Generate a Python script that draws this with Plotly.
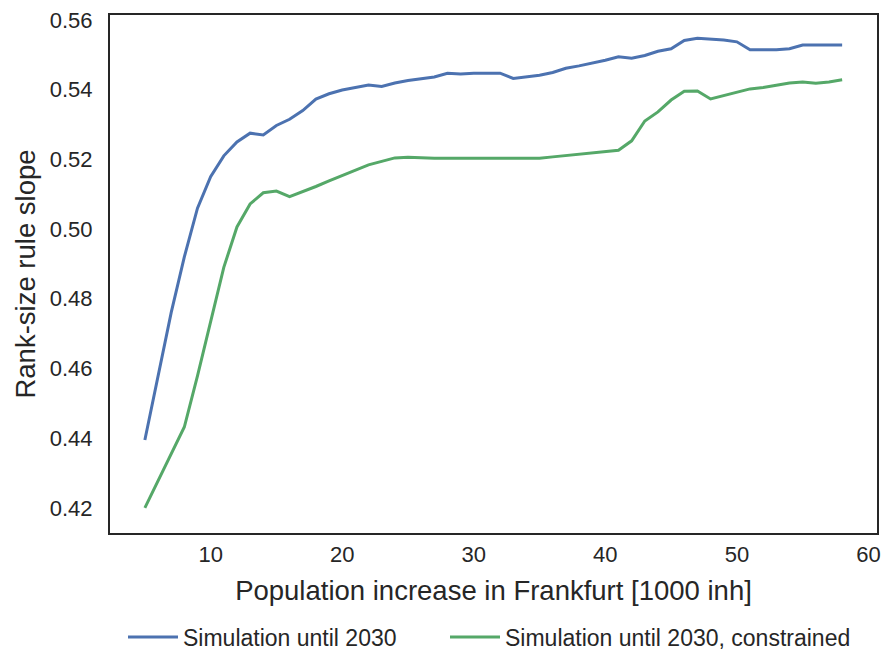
import plotly.graph_objects as go

population_increase = list(range(5, 59))

slope_2030 = [
    0.4395, 0.458, 0.476, 0.492, 0.506, 0.515, 0.521, 0.525, 0.5275, 0.527,
    0.5297, 0.5315, 0.534, 0.5373, 0.5388, 0.5399, 0.5407, 0.5413, 0.5409, 0.5419,
    0.5426, 0.5432, 0.5436, 0.5447, 0.5445, 0.5447, 0.5447, 0.5447, 0.5432, 0.5436,
    0.5441, 0.5449, 0.5461, 0.5468, 0.5475, 0.5484, 0.5494, 0.549, 0.5498, 0.551,
    0.5517, 0.5541, 0.5547, 0.5545, 0.5542, 0.5537, 0.5514, 0.5514, 0.5514, 0.5517,
    0.5528, 0.5528, 0.5528, 0.5528,
]

slope_2030_constrained = [
    0.420, 0.4278, 0.4357, 0.4432, 0.4579, 0.4731, 0.489, 0.5006, 0.5072, 0.5104,
    0.5109, 0.5093, 0.5107, 0.5122, 0.5138, 0.5154, 0.517, 0.5184, 0.5194, 0.5204,
    0.5206, 0.5204, 0.5203, 0.5203, 0.5203, 0.5203, 0.5203, 0.5203, 0.5203, 0.5203,
    0.5203, 0.5207, 0.5211, 0.5216, 0.522, 0.5224, 0.5226, 0.5253, 0.531, 0.5336,
    0.537, 0.5395, 0.5396, 0.5373, 0.5382, 0.5392, 0.5402, 0.5406, 0.5413, 0.5419,
    0.5422, 0.5418, 0.5422, 0.5428,
]

series_names = ["Simulation until 2030", "Simulation until 2030, constrained"]
x_ticks = [10, 20, 30, 40, 50, 60]
y_ticks = [0.42, 0.44, 0.46, 0.48, 0.50, 0.52, 0.54, 0.56]

FONT = "Liberation Sans, Arial, sans-serif"
TEXT = "#262626"
TICK_SIZE = 22
TITLE_SIZE = 27.5
LEGEND_SIZE = 23

fig = go.Figure()
fig.add_trace(go.Scatter(x=population_increase, y=slope_2030, mode="lines",
                         name=series_names[0], line=dict(color="#4C72B0", width=3),
                         legend="legend"))
fig.add_trace(go.Scatter(x=population_increase, y=slope_2030_constrained, mode="lines",
                         name=series_names[1], line=dict(color="#55A868", width=3),
                         legend="legend2"))

legend_common = dict(orientation="h", xref="container", yref="container",
                     xanchor="left", y=0.023, yanchor="middle",
                     font=dict(size=LEGEND_SIZE, color=TEXT), itemwidth=50)

fig.update_layout(
    width=882, height=652,
    margin=dict(l=110, r=5, t=15, b=119),
    paper_bgcolor="white", plot_bgcolor="white",
    font=dict(family=FONT, color=TEXT, size=TICK_SIZE),
    showlegend=True,
    legend=dict(x=(128 - 5) / 882, **legend_common),
    legend2=dict(x=(450 - 5) / 882, **legend_common),
)
fig.update_xaxes(
    range=[2.35, 60.65], tickvals=x_ticks, showgrid=False, zeroline=False,
    showline=True, linecolor=TEXT, linewidth=2, mirror=True, automargin=False,
    ticks="outside", ticklen=1, tickcolor="rgba(0,0,0,0)",
    tickfont=dict(size=TICK_SIZE, color=TEXT),
    title=dict(text="Population increase in Frankfurt [1000 inh]",
               font=dict(size=TITLE_SIZE, color=TEXT), standoff=14),
)
fig.update_yaxes(
    range=[0.4128, 0.5614], tickvals=y_ticks, tickformat=".2f", showgrid=False, zeroline=False,
    showline=True, linecolor=TEXT, linewidth=2, mirror=True, automargin=False,
    ticks="outside", ticklen=11, tickcolor="rgba(0,0,0,0)",
    tickfont=dict(size=TICK_SIZE, color=TEXT),
    title=dict(text="Rank-size rule slope", font=dict(size=TITLE_SIZE, color=TEXT), standoff=6),
)

fig.write_html("out.html", config={"displayModeBar": False},
               post_script="document.body.style.margin='0';")
